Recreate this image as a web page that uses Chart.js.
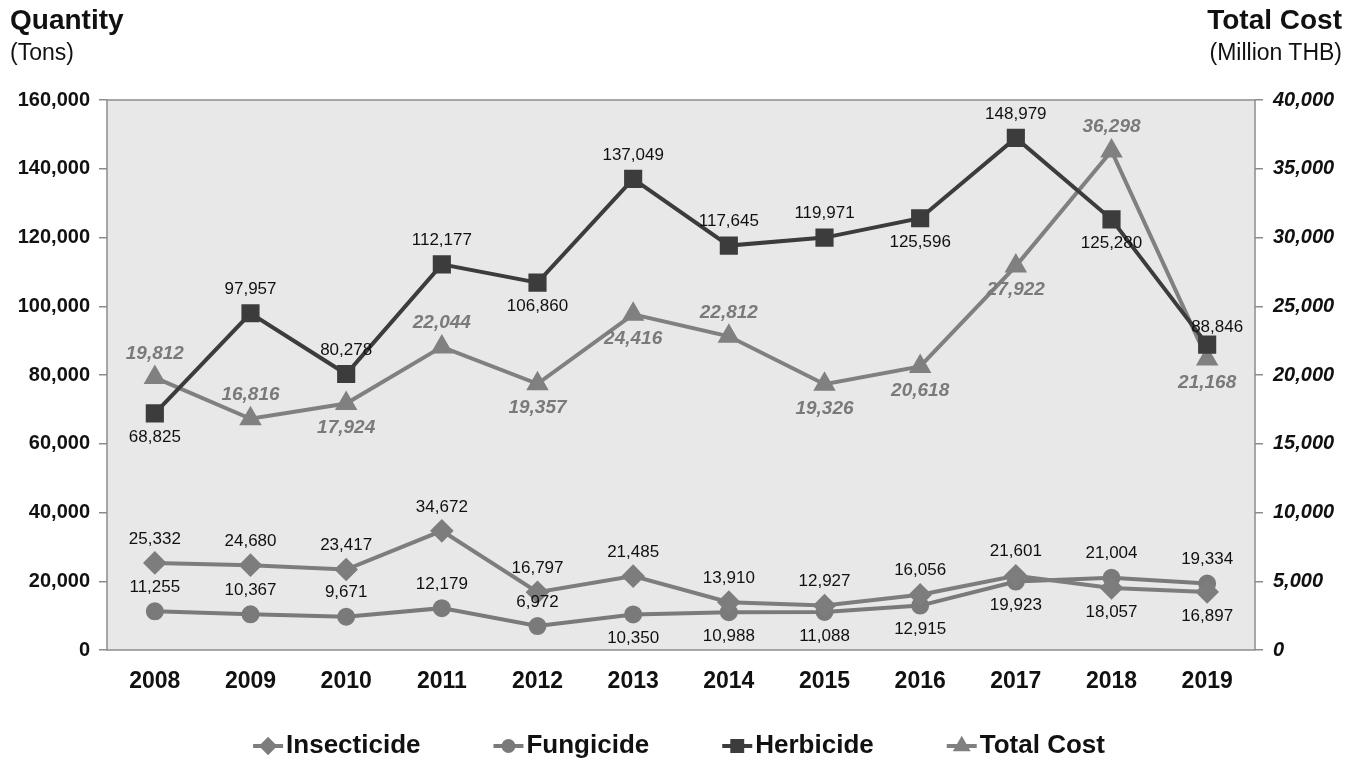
<!DOCTYPE html>
<html>
<head>
<meta charset="utf-8">
<script src="https://cdn.jsdelivr.net/npm/chart.js@4.4.0/dist/chart.umd.min.js"></script>
<style>
  body { margin: 0; background: #fff; font-family: "Liberation Sans", Arial, sans-serif; }
  #wrap { position: relative; width: 1362px; height: 766px; }
  .ttl { position: absolute; color: #111; white-space: nowrap; }
  .b { font-weight: bold; font-size: 28px; }
  .r { font-size: 23px; }
</style>
</head>
<body>
<div id="wrap">
  <canvas id="MyChart" width="1362" height="766"></canvas>
  <div class="ttl b" style="left:10px; top:4px;">Quantity</div>
  <div class="ttl r" style="left:10px; top:39px;">(Tons)</div>
  <div class="ttl b" style="right:20px; top:4px;">Total Cost</div>
  <div class="ttl r" style="right:20px; top:39px;">(Million THB)</div>
</div>
<script>
// values
var years = ['2008', '2009', '2010', '2011', '2012', '2013', '2014', '2015', '2016', '2017', '2018', '2019'];
var insecticide = [25332, 24680, 23417, 34672, 16797, 21485, 13910, 12927, 16056, 21601, 18057, 16897];
var fungicide = [11255, 10367, 9671, 12179, 6972, 10350, 10988, 11088, 12915, 19923, 21004, 19334];
var herbicide = [68825, 97957, 80278, 112177, 106860, 137049, 117645, 119971, 125596, 148979, 125280, 88846];
var totalCost = [19812, 16816, 17924, 22044, 19357, 24416, 22812, 19326, 20618, 27922, 36298, 21168];

// where each value label sits: 'a' above, 'b' below
var insPlace = ['a','a','a','a','a','a','a','a','a','a','b','b'];
var funPlace = ['a','a','a','a','a','b','b','b','b','b','a','a'];
var herPlace = ['b','a','a','a','b','a','a','a','b','a','b','a'];
var costPlace = ['a','a','b','a','b','b','a','b','b','b','a','b'];

var FONT = '"Liberation Sans", Arial, sans-serif';

function fmt(v) { return v.toLocaleString('en-US'); }

const bgPlugin = {
  id: 'bg',
  beforeDraw: function (chart) {
    var a = chart.chartArea, ctx = chart.ctx;
    ctx.save();
    ctx.fillStyle = '#e8e8e8';
    ctx.fillRect(a.left, a.top, a.right - a.left, a.bottom - a.top);
    ctx.strokeStyle = '#8c8c8c';
    ctx.lineWidth = 1.5;
    ctx.strokeRect(a.left, a.top, a.right - a.left, a.bottom - a.top);
    ctx.restore();
  }
};

const labelPlugin = {
  id: 'vals',
  afterDatasetsDraw: function (chart) {
    var ctx = chart.ctx;
    var places = [insPlace, funPlace, herPlace, costPlace];
    ctx.save();
    ctx.textAlign = 'center';
    ctx.textBaseline = 'middle';
    chart.data.datasets.forEach(function (ds, i) {
      var meta = chart.getDatasetMeta(i);
      if (i == 3) {
        ctx.font = 'italic bold 19px ' + FONT;
        ctx.fillStyle = '#7a7a7a';
      } else {
        ctx.font = '17px ' + FONT;
        ctx.fillStyle = '#111';
      }
      meta.data.forEach(function (pt, j) {
        var dy = places[i][j] == 'a' ? -24 : 24;
        var dx = 0;
        if (i == 2 && j == 11) { dx = 10; dy = -17; }
        ctx.fillText(fmt(ds.data[j]), pt.x + dx, pt.y + dy);
      });
    });
    ctx.restore();
  }
};

const legendPlugin = {
  id: 'legendLine',
  afterDraw: function (chart) {
    var ctx = chart.ctx;
    var ds = chart.data.datasets;
    ctx.save();
    ctx.font = 'bold 26px ' + FONT;
    var gap = 73, lineW = 30, total = 0;
    var widths = ds.map(function (d) { return ctx.measureText(d.label).width; });
    widths.forEach(function (w) { total += lineW + 3 + w; });
    total += gap * (ds.length - 1);
    var x = 679 - total / 2, y = 746;
    ds.forEach(function (d, i) {
      ctx.strokeStyle = d.borderColor;
      ctx.lineWidth = 4;
      ctx.beginPath();
      ctx.moveTo(x, y);
      ctx.lineTo(x + lineW, y);
      ctx.stroke();
      ctx.fillStyle = d.pointBackgroundColor;
      Chart.helpers.drawPoint(ctx, { pointStyle: d.pointStyle, radius: d.pointRadius * 0.7, rotation: 0, borderWidth: 1 }, x + lineW / 2, y);
      ctx.fillStyle = '#111';
      ctx.textAlign = 'left';
      ctx.textBaseline = 'middle';
      ctx.fillText(d.label, x + lineW + 3, y);
      x += lineW + 3 + widths[i] + gap;
    });
    ctx.restore();
  }
};

const data = {
  labels: years,
  datasets: [{
    label: 'Insecticide',
    data: insecticide,
    borderColor: '#7d7d7d',
    backgroundColor: '#7d7d7d',
    pointBackgroundColor: '#7d7d7d',
    pointBorderColor: '#7d7d7d',
    pointStyle: 'rectRot',
    pointRadius: 9,
    borderWidth: 4,
    yAxisID: 'y'
  }, {
    label: 'Fungicide',
    data: fungicide,
    borderColor: '#7a7a7a',
    backgroundColor: '#7a7a7a',
    pointBackgroundColor: '#7a7a7a',
    pointBorderColor: '#7a7a7a',
    pointStyle: 'circle',
    pointRadius: 7,
    borderWidth: 4,
    yAxisID: 'y'
  }, {
    label: 'Herbicide',
    data: herbicide,
    borderColor: '#3c3c3c',
    backgroundColor: '#3c3c3c',
    pointBackgroundColor: '#3c3c3c',
    pointBorderColor: '#3c3c3c',
    pointStyle: 'rect',
    pointRadius: 10,
    borderWidth: 4,
    yAxisID: 'y'
  }, {
    label: 'Total Cost',
    data: totalCost,
    borderColor: '#808080',
    backgroundColor: '#808080',
    pointBackgroundColor: '#808080',
    pointBorderColor: '#808080',
    pointStyle: 'triangle',
    pointRadius: 9,
    borderWidth: 4,
    yAxisID: 'y1'
  }]
};

const config = {
  type: 'line',
  data: data,
  plugins: [bgPlugin, labelPlugin, legendPlugin],
  options: {
    responsive: false,
    animation: false,
    layout: { padding: { top: 100, bottom: 0, left: 0, right: 0 } },
    plugins: { legend: { display: false }, tooltip: { enabled: false } },
    scales: {
      x: {
        offset: true,
        grid: { display: false, drawTicks: false },
        border: { display: false },
        ticks: { color: '#111', font: { family: FONT, size: 23, weight: 'bold' }, padding: 18 },
        afterFit: function (s) { s.height = 116; }
      },
      y: {
        position: 'left',
        min: 0, max: 160000,
        grid: { drawOnChartArea: false, tickLength: 8, color: '#8c8c8c', lineWidth: 1.5 },
        border: { display: false },
        ticks: { stepSize: 20000, color: '#111', padding: 9,
          font: { family: FONT, size: 20, weight: 'bold' },
          callback: function (v) { return fmt(v); } },
        afterFit: function (s) { s.width = 107; }
      },
      y1: {
        position: 'right',
        min: 0, max: 40000,
        grid: { drawOnChartArea: false, tickLength: 8, color: '#8c8c8c', lineWidth: 1.5 },
        border: { display: false },
        ticks: { stepSize: 5000, color: '#111', padding: 10,
          font: { family: FONT, size: 20, weight: 'bold', style: 'italic' },
          callback: function (v) { return fmt(v); } },
        afterFit: function (s) { s.width = 107; }
      }
    }
  }
};

const myChart = new Chart(document.getElementById('MyChart'), config);
</script>
</body>
</html>
